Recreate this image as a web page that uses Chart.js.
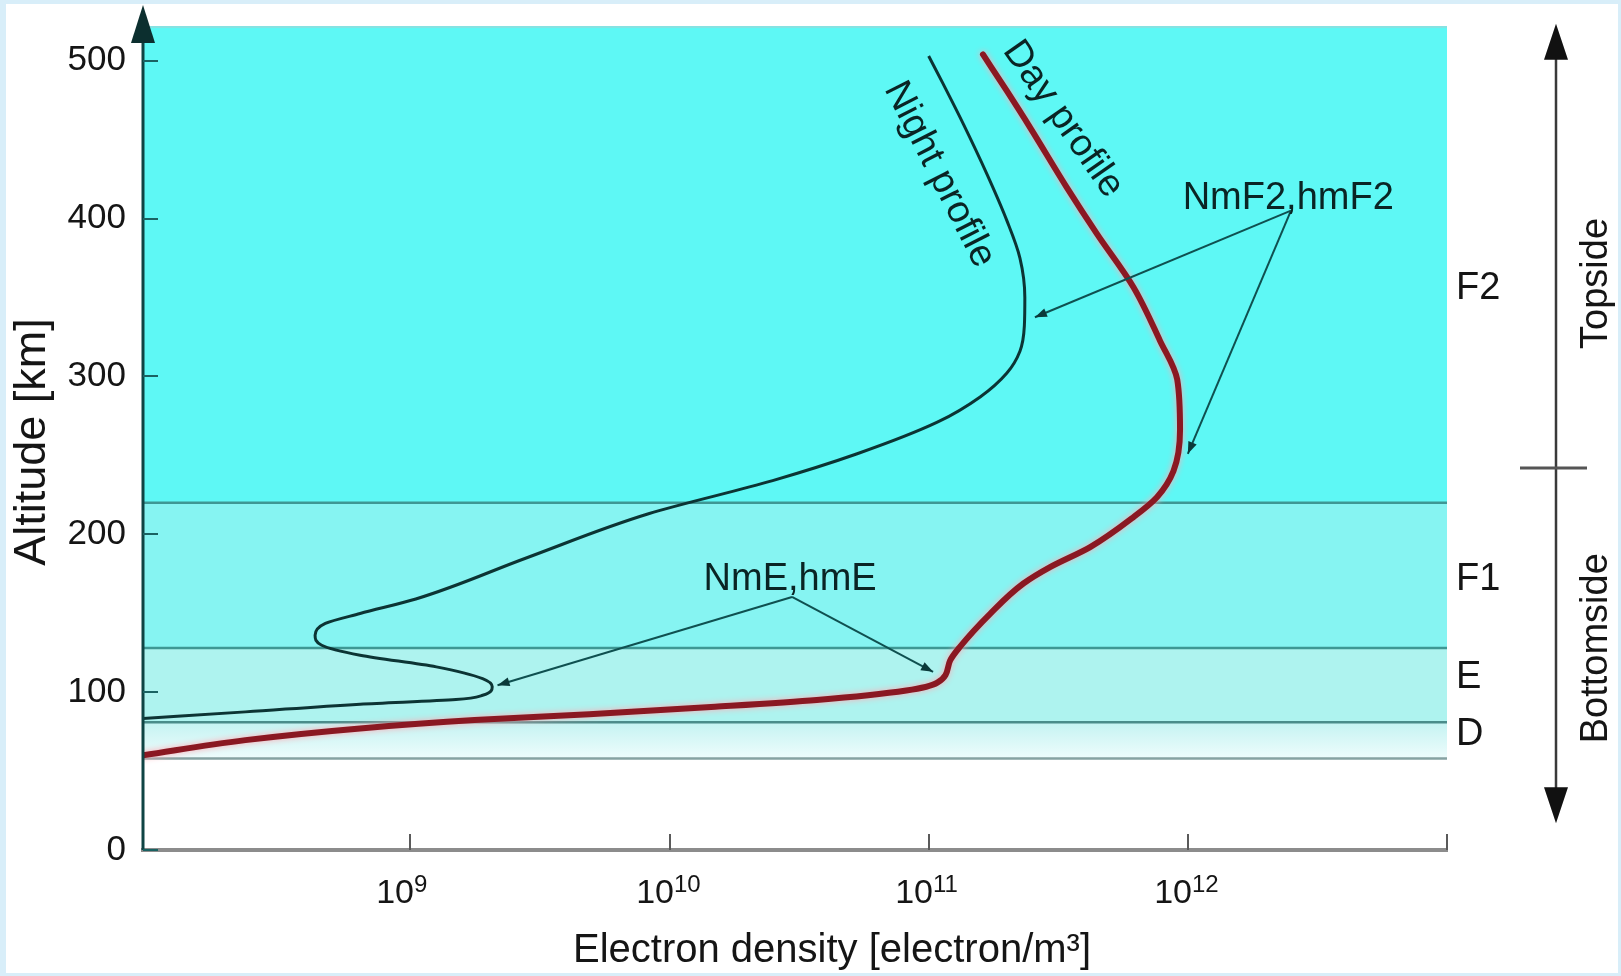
<!DOCTYPE html>
<html>
<head>
<meta charset="utf-8">
<title>Electron density profile</title>
<script src="https://cdn.jsdelivr.net/npm/chart.js@4.4.1/dist/chart.umd.min.js"></script>
<style>
html, body { margin: 0; padding: 0; background: #fff; }
#chartBox { width: 1621px; height: 976px; }
</style>
</head>
<body>
<div id="chartBox"><canvas id="profileChart" width="1621" height="976"></canvas></div>
<script>
// day profile: altitude [km] / electron density [el/m3]
var dayAltitude = [60, 69.6, 77, 82.3, 86, 90.7, 95, 101, 106, 120, 128.7, 149.8, 168.8, 179.2, 191.9, 210.9, 223.5, 240, 266, 298, 322.8, 356.5, 390.3, 419.8, 457.8, 481, 504];
var dayDensity = [9.3e7, 2.31e8, 6.4e8, 1.77e9, 4.9e9, 1.5e10, 3.7e10, 8.2e10, 1.08e11, 1.21e11, 1.32e11, 1.73e11, 2.32e11, 2.94e11, 4.2e11, 6.17e11, 7.6e11, 8.8e11, 9.33e11, 9.1e11, 7.8e11, 6.17e11, 4.46e11, 3.41e11, 2.46e11, 2.0e11, 1.62e11];

// night profile
var nightAltitude = [83.3, 87.5, 92.4, 95.3, 98, 103.4, 108.5, 116, 123.4, 129.7, 136, 143.5, 149.8, 159, 185, 213, 234, 251, 271, 287, 302, 316, 332, 350, 375, 399, 428, 460, 485, 503];
var nightDensity = [9.3e7, 2.31e8, 6.4e8, 1.5e9, 1.9e9, 2.07e9, 1.9e9, 1.26e9, 6.4e8, 4.55e8, 4.29e8, 4.7e8, 6.4e8, 1.05e9, 2.8e9, 8.3e9, 2.5e10, 5.3e10, 1.08e11, 1.58e11, 2.0e11, 2.25e11, 2.34e11, 2.35e11, 2.25e11, 2.0e11, 1.68e11, 1.36e11, 1.14e11, 1.0e11];

var xMin = 9.3e7;
var xMax = 1e13;
var yMax = 522;
var xTickValues = [1e9, 1e10, 1e11, 1e12, 1e13];
var xTickExponents = ["9", "10", "11", "12", ""];
var yTickValues = [0, 100, 200, 300, 400, 500];

// ionospheric layers
var layerNames = ["D", "E", "F1", "F2"];
var layerBottoms = [58, 81, 128, 220];
var layerTops = [81, 128, 220, 522];
var layerLabelAltitudes = [73.4, 109.5, 171.5, 356];
var sideSplitAltitude = 242;

// peak annotations [density, altitude]
var nmF2Anchor = [2.5e12, 405];
var nmF2Targets = [[2.57e11, 337.5], [1.0e12, 251]];
var nmEAnchor = [2.97e10, 160.3];
var nmETargets = [[2.17e9, 104.4], [1.04e11, 112.9]];

function toPoints(xs, ys) {
	var pts = [];
	for(var i = 0; i < xs.length; i++) {
		pts.push({ x: xs[i], y: ys[i] });
	}
	return pts;
}

var FONT = "'Liberation Sans', Arial, Helvetica, sans-serif";

function font(size) {
	return size + "px " + FONT;
}

function drawArrowHead(ctx, fromX, fromY, toX, toY, len, half) {
	var a = Math.atan2(toY - fromY, toX - fromX);
	ctx.beginPath();
	ctx.moveTo(toX, toY);
	ctx.lineTo(toX - len * Math.cos(a) + half * Math.sin(a), toY - len * Math.sin(a) - half * Math.cos(a));
	ctx.lineTo(toX - len * Math.cos(a) - half * Math.sin(a), toY - len * Math.sin(a) + half * Math.cos(a));
	ctx.closePath();
	ctx.fill();
}

function rotatedText(ctx, text, x, y, deg) {
	ctx.save();
	ctx.translate(x, y);
	ctx.rotate(deg * Math.PI / 180);
	ctx.fillText(text, 0, 0);
	ctx.restore();
}

var backgroundPlugin = {
	id: "backgroundPlugin",
	beforeDraw: function(chart) {
		var ctx = chart.ctx;
		var ca = chart.chartArea;
		var ys = chart.scales.y;

		ctx.save();
		ctx.fillStyle = "#d8eef9";
		ctx.fillRect(0, 0, chart.width, chart.height);
		ctx.fillStyle = "#ffffff";
		ctx.fillRect(6, 4, chart.width - 9, chart.height - 7);

		var bandColors = [null, "#aef3ef", "#86f4f2", "#5ef8f5"];
		for(var i = 0; i < layerNames.length; i++) {
			var yT = ys.getPixelForValue(layerTops[i]);
			var yB = ys.getPixelForValue(layerBottoms[i]);
			if(i == 0) {
				var g = ctx.createLinearGradient(0, yT, 0, yB);
				g.addColorStop(0, "#c4f3f2");
				g.addColorStop(1, "#eefcfc");
				ctx.fillStyle = g;
			} else {
				ctx.fillStyle = bandColors[i];
			}
			ctx.fillRect(ca.left, yT, ca.right - ca.left, yB - yT);
		}

		// top edge of the box
		ctx.strokeStyle = "#86e2e2";
		ctx.lineWidth = 2;
		ctx.beginPath();
		ctx.moveTo(ca.left, ca.top + 1);
		ctx.lineTo(ca.right, ca.top + 1);
		ctx.stroke();

		var lineColors = ["#86a2a2", "#4a8c8a", "#3e9794", "#3e9794"];
		ctx.lineWidth = 2.5;
		for(var j = 0; j < layerBottoms.length; j++) {
			var y = ys.getPixelForValue(layerBottoms[j]);
			ctx.strokeStyle = lineColors[j];
			ctx.beginPath();
			ctx.moveTo(ca.left, y);
			ctx.lineTo(ca.right, y);
			ctx.stroke();
		}
		ctx.restore();
	},
	beforeDatasetDraw: function(chart, args) {
		if(args.index == 0) {
			chart.ctx.save();
			chart.ctx.shadowColor = "rgba(255, 170, 180, 1)";
			chart.ctx.shadowBlur = 6;
		}
	},
	afterDatasetDraw: function(chart, args) {
		if(args.index == 0) {
			chart.ctx.restore();
		}
	},
	afterDraw: function(chart) {
		var ctx = chart.ctx;
		var ca = chart.chartArea;
		var xs = chart.scales.x;
		var ys = chart.scales.y;

		function P(v) {
			return [xs.getPixelForValue(v[0]), ys.getPixelForValue(v[1])];
		}

		ctx.save();

		// x axis ticks
		ctx.strokeStyle = "#5a5a5a";
		ctx.lineWidth = 2;
		for(var i = 0; i < xTickValues.length; i++) {
			var tx = Math.round(xs.getPixelForValue(xTickValues[i]));
			ctx.beginPath();
			ctx.moveTo(tx, ca.bottom);
			ctx.lineTo(tx, ca.bottom - 16);
			ctx.stroke();
			if(xTickExponents[i] != "") {
				ctx.fillStyle = "#151515";
				ctx.font = font(34);
				ctx.textAlign = "right";
				ctx.textBaseline = "alphabetic";
				ctx.fillText("10", tx + 4, ca.bottom + 53);
				ctx.font = font(24);
				ctx.textAlign = "left";
				ctx.fillText(xTickExponents[i], tx + 4, ca.bottom + 42);
			}
		}

		// y axis with arrow
		ctx.strokeStyle = "#0f4444";
		ctx.fillStyle = "#0c2f2f";
		ctx.lineWidth = 3;
		ctx.beginPath();
		ctx.moveTo(ca.left, ca.bottom);
		ctx.lineTo(ca.left, ca.top - 10);
		ctx.stroke();
		drawArrowHead(ctx, ca.left, ca.bottom, ca.left, ca.top - 21, 38, 12);

		ctx.strokeStyle = "#1a6262";
		ctx.lineWidth = 2;
		for(var k = 0; k < yTickValues.length; k++) {
			var ty = Math.round(ys.getPixelForValue(yTickValues[k]));
			ctx.beginPath();
			ctx.moveTo(ca.left, ty);
			ctx.lineTo(ca.left + 15, ty);
			ctx.stroke();
		}

		// peak arrows
		ctx.strokeStyle = "#0f5050";
		ctx.fillStyle = "#0b3a3a";
		ctx.lineWidth = 2;
		var groups = [[nmF2Anchor, nmF2Targets], [nmEAnchor, nmETargets]];
		for(var g = 0; g < groups.length; g++) {
			var a = P(groups[g][0]);
			for(var t = 0; t < groups[g][1].length; t++) {
				var b = P(groups[g][1][t]);
				ctx.beginPath();
				ctx.moveTo(a[0], a[1]);
				ctx.lineTo(b[0], b[1]);
				ctx.stroke();
				drawArrowHead(ctx, a[0], a[1], b[0], b[1], 12, 4.5);
			}
		}

		// in-chart labels
		ctx.fillStyle = "#0a2424";
		ctx.font = font(38);
		ctx.textAlign = "center";
		ctx.textBaseline = "alphabetic";
		var l1 = P([2.44e12, 406]);
		ctx.fillText("NmF2,hmF2", l1[0], l1[1]);
		var l2 = P([2.92e10, 164.6]);
		ctx.fillText("NmE,hmE", l2[0], l2[1]);

		ctx.textBaseline = "middle";
		var l3 = P([1.1e11, 428]);
		rotatedText(ctx, "Night profile", l3[0], l3[1], 63);
		var l4 = P([3.3e11, 463]);
		rotatedText(ctx, "Day profile", l4[0], l4[1], 55);

		// layer names
		ctx.fillStyle = "#151515";
		ctx.textAlign = "left";
		for(var n = 0; n < layerNames.length; n++) {
			ctx.fillText(layerNames[n], ca.right + 9, ys.getPixelForValue(layerLabelAltitudes[n]));
		}

		// topside / bottomside arrow
		var ax = ca.right + 109;
		var yTop = ys.getPixelForValue(523.4);
		var yBot = ys.getPixelForValue(17);
		ctx.strokeStyle = "#3a3a3a";
		ctx.fillStyle = "#111";
		ctx.lineWidth = 2.5;
		ctx.beginPath();
		ctx.moveTo(ax, yTop + 10);
		ctx.lineTo(ax, yBot - 10);
		ctx.stroke();
		drawArrowHead(ctx, ax, yBot, ax, yTop, 36, 12);
		drawArrowHead(ctx, ax, yTop, ax, yBot, 36, 12);
		var ySplit = ys.getPixelForValue(sideSplitAltitude);
		ctx.strokeStyle = "#555";
		ctx.lineWidth = 3;
		ctx.beginPath();
		ctx.moveTo(ax - 36, ySplit);
		ctx.lineTo(ax + 31, ySplit);
		ctx.stroke();

		ctx.fillStyle = "#151515";
		ctx.textAlign = "center";
		rotatedText(ctx, "Topside", ax + 41, ys.getPixelForValue(358.9), -90);
		rotatedText(ctx, "Bottomside", ax + 41, ys.getPixelForValue(127.8), -90);

		// axis titles
		ctx.font = font(45);
		rotatedText(ctx, "Altitude [km]", 33, (ca.top + ca.bottom) / 2 + 4, -90);
		ctx.font = font(40);
		ctx.fillText("Electron density [electron/m\u00b3]", (ca.left + ca.right) / 2 + 37, ca.bottom + 101);

		ctx.restore();
	}
};

new Chart(document.getElementById("profileChart").getContext("2d"), {
	type: "scatter",
	data: {
		datasets: [
			{
				label: "Day profile",
				data: toPoints(dayDensity, dayAltitude),
				showLine: true,
				borderColor: "#8a1822",
				borderWidth: 6,
				pointRadius: 0,
				cubicInterpolationMode: "monotone",
				borderCapStyle: "round"
			},
			{
				label: "Night profile",
				data: toPoints(nightDensity, nightAltitude),
				showLine: true,
				borderColor: "#0c3434",
				borderWidth: 3,
				pointRadius: 0,
				cubicInterpolationMode: "monotone"
			}
		]
	},
	options: {
		responsive: false,
		animation: false,
		devicePixelRatio: 1,
		indexAxis: "y",
		layout: { padding: { left: 0, top: 26, right: 174, bottom: 0 } },
		plugins: {
			legend: { display: false },
			tooltip: { enabled: false }
		},
		scales: {
			x: {
				type: "logarithmic",
				min: xMin,
				max: xMax,
				grid: { display: false, drawTicks: false },
				border: { display: true, color: "#8c8c8c", width: 4 },
				ticks: { display: false },
				afterFit: function(scale) {
					scale.height = 126;
					scale.paddingLeft = 0;
					scale.paddingRight = 0;
				}
			},
			y: {
				type: "linear",
				min: 0,
				max: yMax,
				grid: { display: false, drawTicks: false },
				border: { display: false },
				afterBuildTicks: function(scale) {
					scale.ticks = yTickValues.map(function(v) { return { value: v }; });
				},
				ticks: {
					font: { family: FONT, size: 35 },
					color: "#151515",
					padding: 17
				},
				afterFit: function(scale) {
					scale.width = 143;
					scale.paddingTop = 0;
					scale.paddingBottom = 0;
				}
			}
		}
	},
	plugins: [backgroundPlugin]
});
</script>
</body>
</html>
